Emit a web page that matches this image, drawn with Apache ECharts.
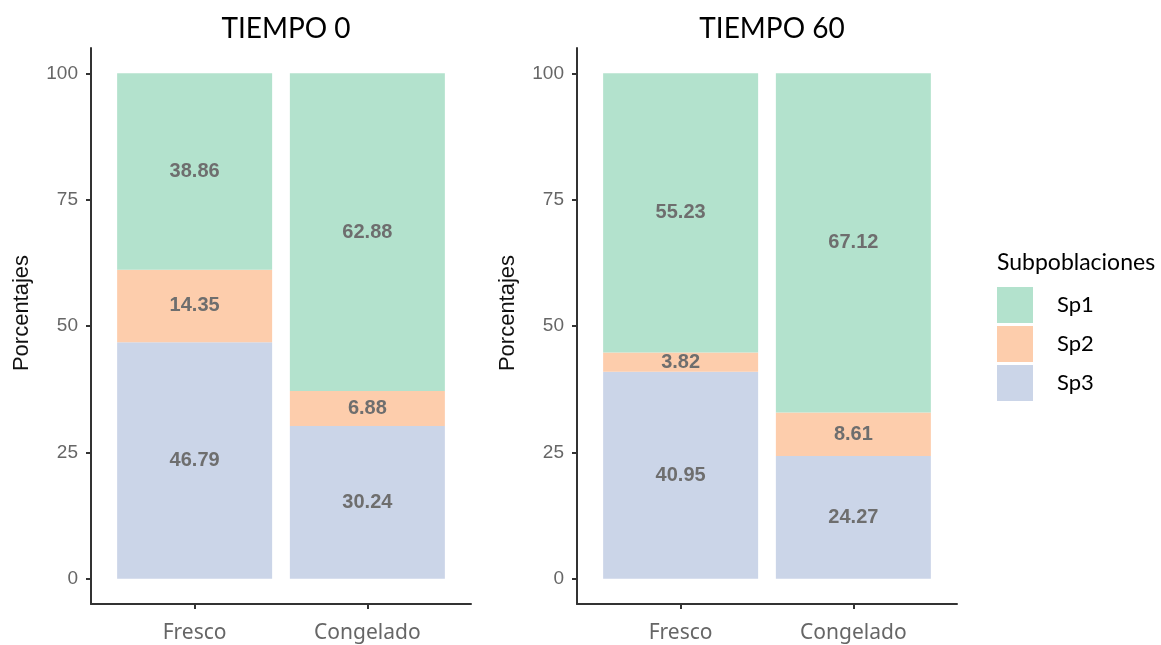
<!DOCTYPE html>
<html>
<head>
<meta charset="utf-8">
<script src="https://cdn.jsdelivr.net/npm/echarts@6/dist/echarts.min.js"></script>
<style>
  html, body { margin: 0; padding: 0; background: #ffffff; }
  #chart { width: 1161px; height: 645px; }
</style>
</head>
<body>
<div id="chart"></div>
<script>
// Categories, panels and subpopulation shares (percent)
const categories = ['Fresco', 'Congelado'];
const panelTitles = ['TIEMPO 0', 'TIEMPO 60'];
const subpops = ['Sp1', 'Sp2', 'Sp3'];

const sp1Tiempo0 = [38.86, 62.88];
const sp2Tiempo0 = [14.35, 6.88];
const sp3Tiempo0 = [46.79, 30.24];

const sp1Tiempo60 = [55.23, 67.12];
const sp2Tiempo60 = [3.82, 8.61];
const sp3Tiempo60 = [40.95, 24.27];

const yTicks = [0, 25, 50, 75, 100];
const xSlots = [1, 2];

const colors = { Sp1: '#b3e2cd', Sp2: '#fdcdac', Sp3: '#cbd5e8' };

const panelData = [
  { Sp1: sp1Tiempo0, Sp2: sp2Tiempo0, Sp3: sp3Tiempo0 },
  { Sp1: sp1Tiempo60, Sp2: sp2Tiempo60, Sp3: sp3Tiempo60 }
];

const gridLefts = [91, 577];
const grids = gridLefts.map(l => ({ left: l, top: 48, width: 380, height: 556 }));

const axisColor = '#333333';
const tickLabelColor = '#666666';

const xAxes = grids.map((g, i) => ({
  type: 'value',
  gridIndex: i,
  min: 0.4,
  max: 2.6,
  splitLine: { show: false },
  axisLine: { show: true, onZero: false, lineStyle: { color: axisColor, width: 2 } },
  axisTick: { show: true, customValues: xSlots, length: 5, lineStyle: { color: axisColor, width: 2 } },
  axisLabel: {
    customValues: xSlots,
    formatter: v => categories[Math.round(v) - 1],
    color: tickLabelColor,
    fontFamily: 'Noto Sans',
    fontSize: 21,
    margin: 19
  }
}));

const yAxes = grids.map((g, i) => ({
  type: 'value',
  gridIndex: i,
  min: -5,
  max: 105,
  name: 'Porcentajes',
  nameLocation: 'middle',
  nameRotate: 90,
  nameGap: 58,
  nameTextStyle: {
    color: '#111111',
    fontFamily: 'Liberation Sans',
    fontSize: 22,
    padding: [0, 0, 0, 26]
  },
  splitLine: { show: false },
  axisLine: { show: true, onZero: false, lineStyle: { color: axisColor, width: 2 } },
  axisTick: { show: true, customValues: yTicks, length: 5, lineStyle: { color: axisColor, width: 2 } },
  axisLabel: {
    customValues: yTicks,
    color: tickLabelColor,
    fontFamily: 'Liberation Sans',
    fontSize: 19,
    margin: 13
  }
}));

// Stack from the bottom: Sp3, then Sp2, then Sp1 on top.
// Each item is [share, slot]; the share column comes first so it is the stacked one.
const stackOrder = ['Sp3', 'Sp2', 'Sp1'];
const series = [];
panelData.forEach((panel, i) => {
  stackOrder.forEach(name => {
    series.push({
      name: name,
      type: 'bar',
      xAxisIndex: i,
      yAxisIndex: i,
      stack: 'panel' + i,
      barWidth: 155,
      encode: { x: 1, y: 0 },
      itemStyle: { color: colors[name] },
      label: {
        show: true,
        position: 'inside',
        formatter: p => p.value[0].toFixed(2),
        color: '#6e6e6e',
        fontFamily: 'Liberation Sans',
        fontWeight: 'bold',
        fontSize: 20
      },
      data: xSlots.map((x, k) => [panel[name][k], x])
    });
  });
});

const titles = panelTitles.map((t, i) => ({
  text: t,
  left: gridLefts[i] + 190,
  textAlign: 'center',
  top: 10,
  textStyle: { fontFamily: 'Lato', fontWeight: 'normal', fontSize: 28, color: '#000000' }
}));
titles.push({
  text: 'Subpoblaciones',
  left: 997,
  top: 251,
  padding: 0,
  textStyle: { fontFamily: 'Lato', fontWeight: 'normal', fontSize: 23, color: '#000000' }
});

const chart = echarts.init(document.getElementById('chart'), null, { renderer: 'canvas' });
chart.setOption({
  animation: false,
  backgroundColor: '#ffffff',
  title: titles,
  grid: grids,
  xAxis: xAxes,
  yAxis: yAxes,
  legend: {
    data: subpops,
    orient: 'vertical',
    left: 997,
    top: 287,
    padding: 0,
    itemWidth: 36,
    itemHeight: 36,
    itemGap: 3,
    icon: 'rect',
    selectedMode: false,
    textStyle: { fontFamily: 'Lato', fontSize: 22, color: '#000000', padding: [0, 0, 0, 19] }
  },
  series: series
});
</script>
</body>
</html>
